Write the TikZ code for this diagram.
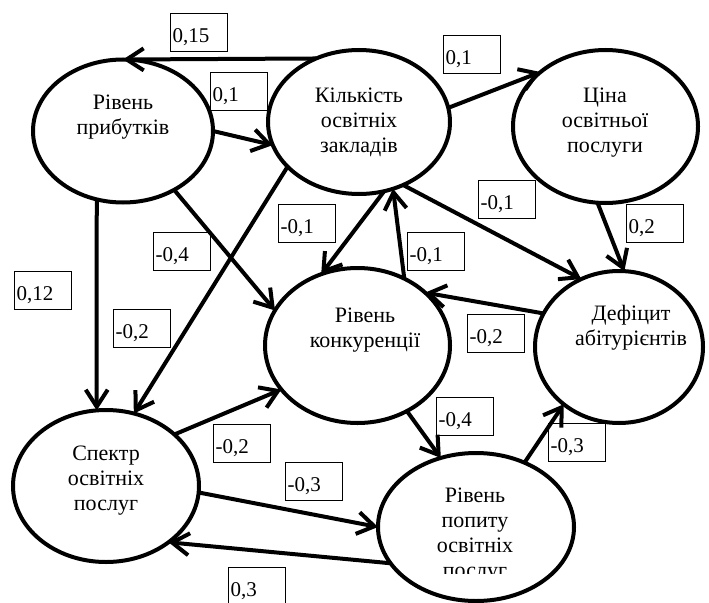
\documentclass[tikz,border=0pt]{standalone}
\usepackage{fontspec}
\setmainfont{Liberation Serif}
\usetikzlibrary{arrows.meta,shapes.geometric}
\begin{document}
\begin{tikzpicture}[x=1pt,y=-1pt,
  factor/.style={ellipse, draw, line width=4pt, inner sep=0pt, outer sep=0pt},
  caption/.style={align=center, font=\fontsize{22}{25}\selectfont, anchor=base, inner sep=0pt},
  weight/.style={draw, line width=1.3pt, rectangle, inner xsep=2pt, inner ysep=0pt,
    text width=53pt, align=left, text height=29pt, text depth=9pt,
    font=\fontsize{21}{24}\selectfont, anchor=north west},
  link/.style={line width=4pt, -{Straight Barb[length=17pt,width=22pt]}}]
\useasboundingbox (0,0) rectangle (709,602);

% factors
\node[factor, minimum width=180pt, minimum height=143pt] (inc)   at (123,131)   {};
\node[factor, minimum width=182pt, minimum height=144pt] (inst)  at (359,122)   {};
\node[factor, minimum width=185pt, minimum height=153pt] (price) at (605.5,126.5) {};
\node[factor, minimum width=185pt, minimum height=155pt] (comp)  at (357.5,345.5) {};
\node[factor, minimum width=168pt, minimum height=152pt] (def)   at (619,347)   {};
\node[factor, minimum width=186pt, minimum height=152pt] (range) at (106,486)   {};
\node[factor, minimum width=196pt, minimum height=148pt] (dem)   at (476,527)   {};

% factor captions (placed by the baseline of their last line)
\node[caption] (incT)   at (123,134) {Рівень\\прибутків};
\node[caption] (instT)  at (359,152) {Кількість\\освітніх\\закладів};
\node[caption] (priceT) at (605,152) {Ціна\\освітньої\\послуги};
\node[caption] (compT)  at (365,347) {Рівень\\конкуренції};
\node[caption] (defT)   at (631,345) {Дефіцит\\абітурієнтів};
\node[caption] (rangeT) at (106,510) {Спектр\\освітніх\\послуг};
\begin{scope}
  \clip (380,455) rectangle (572,573);
  \node[caption] (demT) at (475,577) {Рівень\\попиту\\освітніх\\послуг};
\end{scope}

% influences
\draw[link] (inst.124) -- (inc.90);
\draw[link] (inc.0)    -- (inst.195);
\draw[link] (inst.9)   -- (price.140);
\draw[link] (price.264) -- (def.86);
\draw[link] (inst.305) -- (def.119);
\draw[link] (comp.55)  -- (inst.297);
\draw[link] (inst.290) -- (comp.117);
\draw[link] (inst.212) -- (range.69);
\draw[link] (inc.311)  -- (comp.157);
\draw[link] (inc.249)  -- (range.97);
\draw[link] (def.156)  -- (comp.38);
\draw[link] (range.37) -- (comp.210);
\draw[link] (range.356) -- (dem.180);
\draw[link] (dem.203)  -- (range.318);
\draw[link] (comp.307) -- (dem.117);
\draw[link] (dem.53)   -- (def.226);

% weights
\node[weight] (w1)  at (170,13)  {0,15};
\node[weight] (w2)  at (210,72)  {0,1};
\node[weight] (w3)  at (443,35)  {0,1};
\node[weight] (w4)  at (626,204) {0,2};
\node[weight] (w5)  at (478,180) {-0,1};
\node[weight] (w6)  at (407,232) {-0,1};
\node[weight] (w7)  at (278,204) {-0,1};
\node[weight] (w8)  at (153,232) {-0,4};
\node[weight] (w9)  at (14,271)  {0,12};
\node[weight] (w10) at (113,309) {-0,2};
\node[weight] (w11) at (467,314) {-0,2};
\node[weight] (w12) at (213,424) {-0,2};
\node[weight] (w13) at (285,462) {-0,3};
\node[weight] (w14) at (228,567) {0,3};
\node[weight] (w15) at (436,397) {-0,4};
\node[weight] (w16) at (548,423) {-0,3};
\end{tikzpicture}
\end{document}
